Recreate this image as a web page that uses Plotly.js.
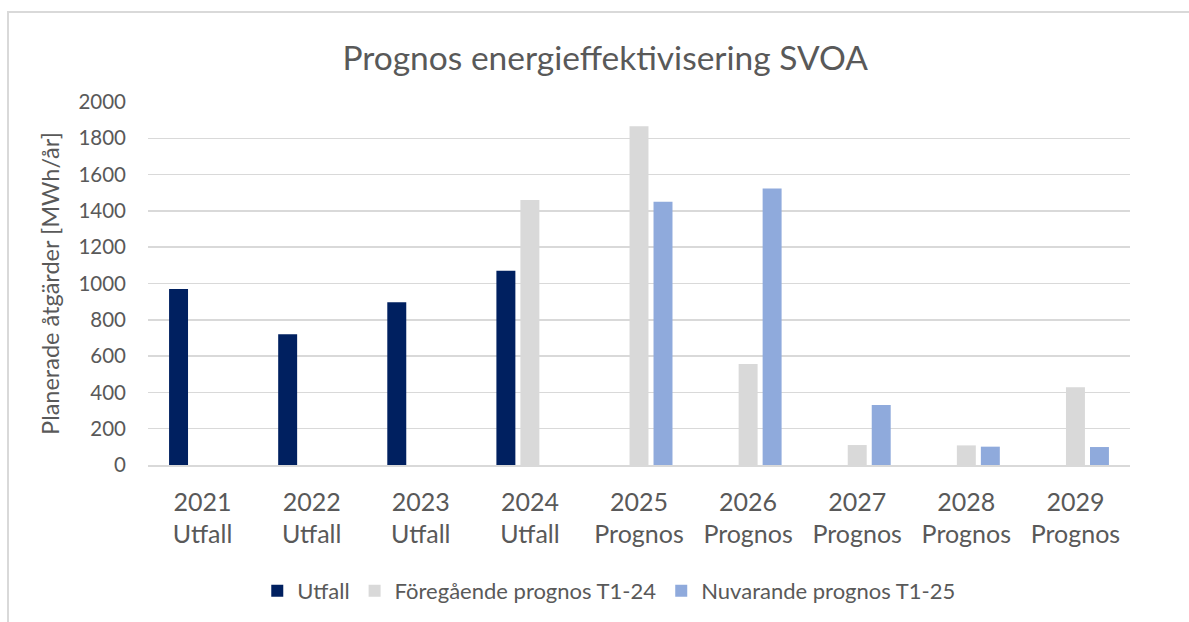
<!DOCTYPE html>
<html>
<head>
<meta charset="utf-8">
<script src="https://cdn.plot.ly/plotly-3.0.1.min.js"></script>
<style>
  html, body { margin: 0; padding: 0; width: 1189px; height: 622px; overflow: hidden; background: #ffffff; }
  #frame { position: absolute; left: 7px; top: 11px; width: 1300px; height: 800px; border: 2px solid #d9d9d9; box-sizing: border-box; }
  #chart { position: absolute; left: 0; top: 0; width: 1189px; height: 622px; }
</style>
</head>
<body>
<div id="frame"></div>
<div id="chart"></div>
<script>
const categories = ['2021<br>Utfall', '2022<br>Utfall', '2023<br>Utfall', '2024<br>Utfall',
  '2025<br>Prognos', '2026<br>Prognos', '2027<br>Prognos', '2028<br>Prognos', '2029<br>Prognos'];
const utfall = [970, 720, 897, 1070, null, null, null, null, null];
const foregaendePrognos = [null, null, null, 1460, 1866, 556, 110, 108, 428];
const nuvarandePrognos = [null, null, null, null, 1450, 1523, 330, 101, 99];
const yTicks = [0, 200, 400, 600, 800, 1000, 1200, 1400, 1600, 1800, 2000];

const FONT = 'Lato, "Open Sans", sans-serif';
const TXT = '#595959';

const traces = [
  { type: 'bar', name: 'Utfall', x: categories, y: utfall, marker: { color: '#002060', line: { width: 0 } } },
  { type: 'bar', name: 'Föregående prognos T1-24', x: categories, y: foregaendePrognos, marker: { color: '#d9d9d9', line: { width: 0 } } },
  { type: 'bar', name: 'Nuvarande prognos T1-25', x: categories, y: nuvarandePrognos, marker: { color: '#8faadc', line: { width: 0 } } }
];

const layout = {
  width: 1189, height: 622,
  paper_bgcolor: 'rgba(0,0,0,0)',
  plot_bgcolor: 'rgba(0,0,0,0)',
  font: { family: FONT, color: TXT },
  margin: { l: 148, r: 59, t: 102, b: 157, pad: 0 },
  barmode: 'group',
  bargap: 0.34,
  bargroupgap: 0.21,
  title: {
    text: 'Prognos energieffektivisering SVOA',
    font: { family: FONT, size: 33.5, color: TXT },
    xref: 'container', x: 0.509, xanchor: 'center',
    yref: 'container', y: 1 - 58 / 622, yanchor: 'middle'
  },
  xaxis: {
    type: 'category',
    tickfont: { family: FONT, size: 25, color: TXT },
    ticks: '', ticklabelstandoff: 14,
    showgrid: false,
    showline: true, linecolor: '#d9d9d9', linewidth: 1.5,
    fixedrange: true
  },
  yaxis: {
    range: [0, 2000],
    tickvals: yTicks,
    ticktext: yTicks.map(String),
    tickfont: { family: FONT, size: 20.5, color: TXT },
    ticks: '', ticklabelstandoff: 21,
    showgrid: true, gridcolor: '#d9d9d9', gridwidth: 1.5,
    zeroline: false,
    showline: false,
    title: { text: 'Planerade åtgärder [MWh/år]', font: { family: FONT, size: 23.5, color: TXT }, standoff: 12 },
    fixedrange: true
  },
  showlegend: true,
  legend: {
    orientation: 'h',
    x: 0.512, xref: 'container', xanchor: 'center',
    y: 1 - 591 / 622, yref: 'container', yanchor: 'middle',
    font: { family: FONT, size: 22, color: TXT },
    bgcolor: 'rgba(0,0,0,0)',
    traceorder: 'normal'
  }
};

Plotly.newPlot('chart', traces, layout, { displayModeBar: false, staticPlot: true });
</script>
</body>
</html>
